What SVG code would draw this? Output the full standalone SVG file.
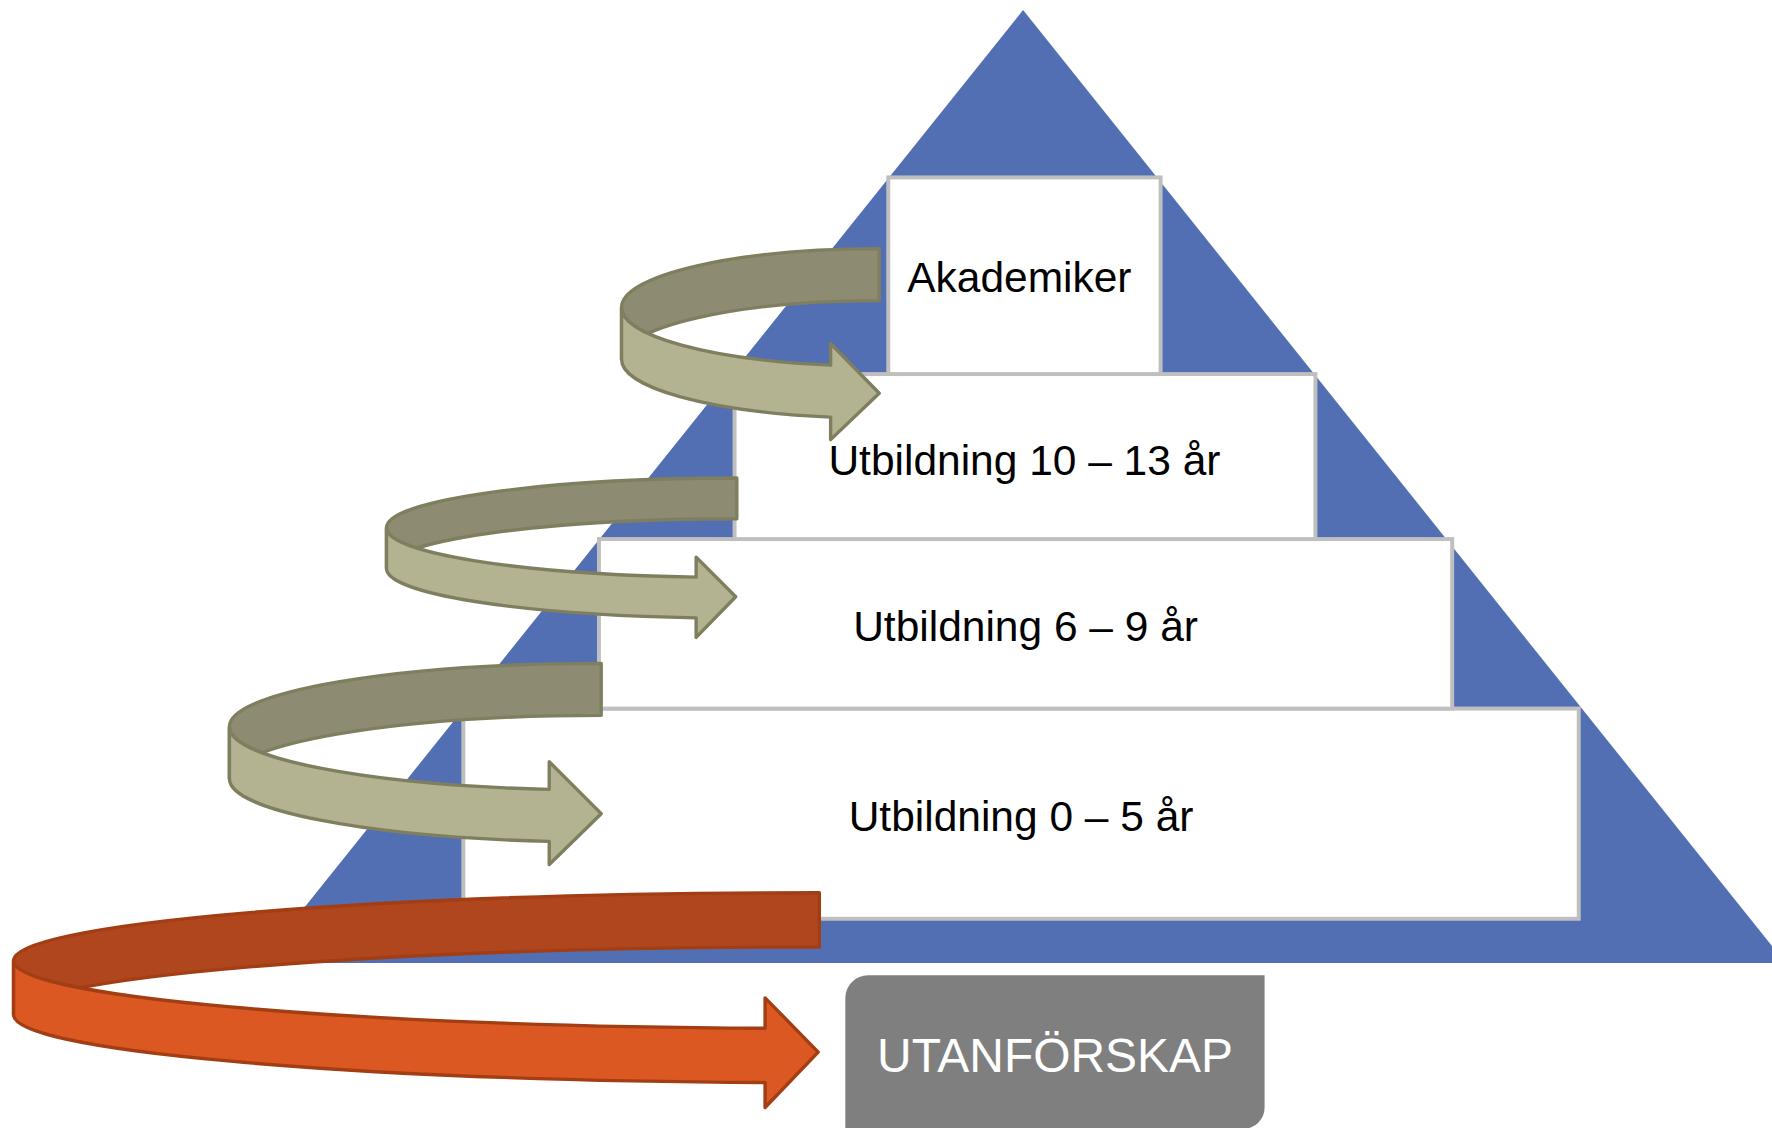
<svg xmlns="http://www.w3.org/2000/svg" width="1772" height="1128" viewBox="0 0 1772 1128">
<style>
.tri{fill:#536fb3}
.step{fill:#ffffff;stroke:#bfbfbf;stroke-width:3.5}
.lbl{font-family:"Liberation Sans",Arial,sans-serif;font-size:37.6px;fill:#000000;text-anchor:middle}
.out{fill:#7f7f7f}
.outlbl{font-family:"Liberation Sans",Arial,sans-serif;font-size:42.4px;fill:#ffffff;text-anchor:middle}
.ob{fill:#8d8b71;stroke:#7f7f60;stroke-width:3;stroke-linejoin:round}
.of{fill:#b3b392;stroke:#7f7f60;stroke-width:3;stroke-linejoin:round}
.rb{fill:#b0461d;stroke:#a33e14;stroke-width:3;stroke-linejoin:round}
.rf{fill:#dc5822;stroke:#a33e14;stroke-width:3;stroke-linejoin:round}
</style>
<rect width="1772" height="1128" fill="#ffffff"/>
<g transform="scale(1.130102)">
<g id="pyramid">
<polygon class="tri" points="905.3,8.9 230,852.2 1580,852.2"/>
</g>
<g id="step-0-5">
<rect class="step" x="410" y="627" width="987" height="186"/>
<text class="lbl" x="903.5" y="735">Utbildning 0 – 5 år</text>
</g>
<g id="step-6-9">
<rect class="step" x="530" y="477" width="755" height="150"/>
<text class="lbl" x="907.5" y="567">Utbildning 6 – 9 år</text>
</g>
<g id="step-10-13">
<rect class="step" x="650" y="331" width="514" height="146"/>
<text class="lbl" x="906.5" y="420">Utbildning 10 – 13 år</text>
</g>
<g id="akademiker">
<rect class="step" x="786" y="157" width="241" height="174"/>
<text class="lbl" x="902" y="258">Akademiker</text>
</g>
<g id="utanforskap">
<path class="out" d="M768,863 L1119,863 L1119,980 A19,19 0 0 1 1100,999 L748,999 L748,883 A20,20 0 0 1 768,863 Z"/>
<text class="outlbl" x="933.5" y="948.3">UTANFÖRSKAP</text>
</g>
<g id="connectors">
<g id="arrow-akademiker">
<path class="ob" d="M778,220 A228,52 0 0 0 550,272 L550,318 A228,52 0 0 1 778,266 Z"/>
<path class="of" d="M550,272 A228,52 0 0 0 735,323.1 L735,304 L778,348 L735,389 L735,369.1 A228,52 0 0 1 550,318 Z"/>
</g>
<g id="arrow-10-13">
<path class="ob" d="M652,423 A310,44 0 0 0 342,467 L342,503 A310,44 0 0 1 652,459 Z"/>
<path class="of" d="M342,467 A310,44 0 0 0 616,510.7 L616,493 L651,528 L616,564 L616,546.7 A310,44 0 0 1 342,503 Z"/>
</g>
<g id="arrow-6-9">
<path class="ob" d="M532,587 A329,56 0 0 0 203,643 L203,689 A329,56 0 0 1 532,633 Z"/>
<path class="of" d="M203,643 A329,56 0 0 0 486,698.5 L486,674 L532,720 L486,765 L486,744.5 A329,56 0 0 1 203,689 Z"/>
</g>
<g id="arrow-utanforskap">
<path class="rb" d="M725,790 A713,60 0 0 0 12,850 L12,898 A713,60 0 0 1 725,838 Z"/>
<path class="rf" d="M12,850 A713,60 0 0 0 677,909.9 L677,883 L724,931 L677,980 L677,957.9 A713,60 0 0 1 12,898 Z"/>
</g>
</g>
</g>
</svg>
